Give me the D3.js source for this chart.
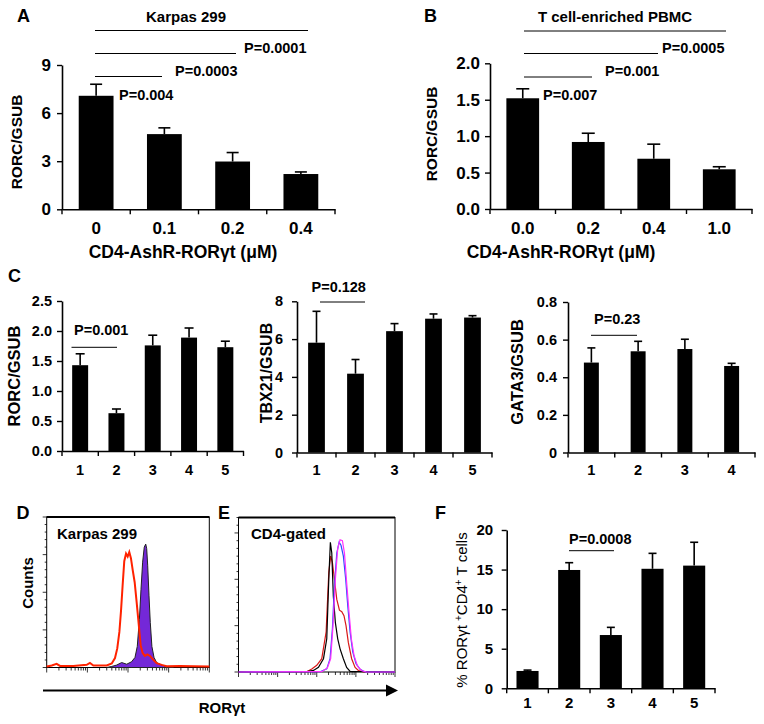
<!DOCTYPE html>
<html><head><meta charset="utf-8">
<script src="https://cdn.jsdelivr.net/npm/d3@7"></script>
<style>
body{margin:0;background:#fff;}
svg{display:block;font-family:"Liberation Sans",Arial,Helvetica,sans-serif;}
text{font-weight:bold;fill:#000;}
</style></head><body>
<svg id="chart" width="764" height="724"></svg>
<script>
// ---------------- DATA ----------------
// Panel A: Karpas 299
const aCategories = ["0", "0.1", "0.2", "0.4"];
const aValues = [7.08, 4.69, 2.98, 2.20];
const aErrors = [0.72, 0.39, 0.56, 0.13];
const aTicks = [0, 3, 6, 9];
const aTickLabels = ["0", "3", "6", "9"];
const aPvalues = ["P=0.004", "P=0.0003", "P=0.0001"];

// Panel B: T cell-enriched PBMC
const bCategories = ["0.0", "0.2", "0.4", "1.0"];
const bValues = [1.52, 0.92, 0.69, 0.545];
const bErrors = [0.13, 0.12, 0.20, 0.035];
const bTicks = [0, 0.5, 1.0, 1.5, 2.0];
const bTickLabels = ["0.0", "0.5", "1.0", "1.5", "2.0"];
const bPvalues = ["P=0.007", "P=0.001", "P=0.0005"];

// Panel C
const c1Categories = ["1", "2", "3", "4", "5"];
const c1Values = [1.43, 0.63, 1.76, 1.89, 1.73];
const c1Errors = [0.19, 0.07, 0.17, 0.16, 0.10];
const c1Ticks = [0, 0.5, 1.0, 1.5, 2.0, 2.5];
const c1TickLabels = ["0.0", "0.5", "1.0", "1.5", "2.0", "2.5"];

const c2Categories = ["1", "2", "3", "4", "5"];
const c2Values = [5.81, 4.17, 6.42, 7.08, 7.14];
const c2Errors = [1.66, 0.75, 0.40, 0.25, 0.10];
const c2Ticks = [0, 2, 4, 6, 8];
const c2TickLabels = ["0", "2", "4", "6", "8"];

const c3Categories = ["1", "2", "3", "4"];
const c3Values = [0.478, 0.538, 0.550, 0.460];
const c3Errors = [0.078, 0.053, 0.052, 0.014];
const c3Ticks = [0, 0.2, 0.4, 0.6, 0.8];
const c3TickLabels = ["0", "0.2", "0.4", "0.6", "0.8"];

// Panel F
const fCategories = ["1", "2", "3", "4", "5"];
const fValues = [2.19, 14.95, 6.73, 15.10, 15.50];
const fErrors = [0.11, 0.92, 0.97, 1.95, 2.95];
const fTicks = [0, 5, 10, 15, 20];
const fTickLabels = ["0", "5", "10", "15", "20"];

// Panel D histograms: [channel (0-1000), count (% of max scale)]
const dRedCurve = [[0,0],[31,0.7],[61,1.8],[82,0.4],[164,0.4],[246,1.1],[266,2.4],[287,0.7],[369,0.7],[400,2],[420,5.6],[434,12],[447,23],[457,37],[467,54],[477,70],[488,75],[498,73],[508,76],[518,72],[529,64],[541,56],[553,43],[566,28],[578,14],[590,9],[604,7],[619,8],[635,7],[656,4.4],[676,2.2],[707,1.1],[738,0.2],[820,0.4],[902,0.2],[1000,0]];
const dPurpleCurve = [[369,0],[400,0.7],[430,1.6],[461,3.3],[492,2.2],[522,3.8],[543,6.7],[557,14],[570,32],[580,52],[590,70],[600,80],[609,82],[615,79],[621,68],[629,48],[637,30],[647,14],[660,6.7],[676,3.3],[707,1.6],[738,0.7],[779,0]];

// Panel E histograms
const eBlackCurve = [[0,0],[436,0.2],[479,1],[511,3],[543,8.6],[564,21.5],[577,60],[587,84],[596,77],[606,49],[619,32],[634,21.5],[649,15],[670,8.6],[691,3],[713,0.4],[1000,0]];
const eRedCurve = [[0,0],[436,0.2],[468,2],[500,4.3],[532,8.6],[560,26],[577,64.5],[589,75],[600,71],[613,60],[628,47],[645,40],[660,39],[674,36.5],[687,30],[702,19],[723,8.6],[745,3],[766,1],[798,0],[1000,0]];
const eBlueCurve = [[0,0],[521,0.2],[564,2],[585,8.6],[600,28],[613,56],[628,77],[643,84],[655,82],[670,75],[685,60],[698,43],[713,26],[730,13],[751,5.4],[777,1.7],[809,0],[1000,0]];
const eMagentaCurve = [[0,0],[532,0.2],[568,2.6],[589,8.6],[604,30],[619,60],[634,80],[649,85.6],[664,85],[677,77],[691,58],[706,39],[721,21.5],[738,10.8],[760,3.9],[787,0.9],[819,0],[1000,0]];

// ---------------- DRAWING ----------------
const svg = d3.select("#chart");
const FONT = '"Liberation Sans",Arial,Helvetica,sans-serif';

function txt(x, y, s, size, opts = {}) {
  const t = svg.append("text").attr("x", x).attr("y", y).text(s)
    .attr("font-size", size).attr("text-anchor", opts.anchor || "start");
  if (opts.weight) t.style("font-weight", opts.weight);
  return t;
}
function rtxt(cx, cy, s, size) {
  return svg.append("text").attr("transform", `translate(${cx},${cy}) rotate(-90)`)
    .attr("text-anchor", "middle").attr("dy", "0.36em").attr("font-size", size).text(s);
}
function hline(x1, x2, y, w = 1) {
  svg.append("line").attr("x1", x1).attr("x2", x2).attr("y1", y).attr("y2", y)
    .attr("stroke", "#000").attr("stroke-width", w);
}

function barPanel(cfg) {
  const g = svg.append("g");
  const x = d3.scaleBand().domain(cfg.categories).range([cfg.x0, cfg.x1])
    .paddingInner(cfg.pad).paddingOuter(cfg.pad / 2);
  const y = d3.scaleLinear().domain(cfg.domain).range([cfg.y0, cfg.y1]);

  g.selectAll("rect").data(cfg.values).join("rect")
    .attr("x", (d, i) => x(cfg.categories[i])).attr("width", x.bandwidth())
    .attr("y", d => y(d)).attr("height", d => y(0) - y(d)).attr("fill", "#000");

  cfg.values.forEach((v, i) => {
    const cx = x(cfg.categories[i]) + x.bandwidth() / 2;
    const top = y(v + cfg.errors[i]);
    g.append("line").attr("x1", cx).attr("x2", cx).attr("y1", y(v)).attr("y2", top)
      .attr("stroke", "#000").attr("stroke-width", 1.6);
    g.append("line").attr("x1", cx - cfg.cap / 2).attr("x2", cx + cfg.cap / 2).attr("y1", top).attr("y2", top)
      .attr("stroke", "#000").attr("stroke-width", 1.6);
  });

  // y axis
  const ya = g.append("g").attr("transform", `translate(${cfg.x0},0)`)
    .call(d3.axisLeft(y).tickValues(cfg.ticks).tickFormat((d, i) => cfg.tickLabels[i])
      .tickSize(5).tickSizeOuter(0).tickPadding(cfg.yPad));
  ya.select(".domain").attr("stroke-width", 1.6);
  ya.selectAll(".tick line").attr("stroke-width", 1.4);
  ya.selectAll("text").attr("font-size", cfg.fs).attr("font-family", FONT).style("font-weight", "bold");

  // x axis
  const xa = g.append("g").attr("transform", `translate(0,${cfg.y0})`)
    .call(d3.axisBottom(x).tickSize(0).tickSizeOuter(0).tickPadding(cfg.xPad));
  xa.select(".domain").attr("stroke-width", 1.6);
  xa.selectAll("text").attr("font-size", cfg.fs).attr("font-family", FONT).style("font-weight", "bold");
  const step = x.step();
  d3.range(cfg.categories.length + 1).forEach(k => {
    const bx = cfg.x0 + k * step;
    g.append("line").attr("x1", bx).attr("x2", bx).attr("y1", cfg.y0).attr("y2", cfg.y0 + 5)
      .attr("stroke", "#000").attr("stroke-width", 1.4);
  });
  return { x, y };
}

// Panel A
barPanel({categories: aCategories, values: aValues, errors: aErrors, ticks: aTicks, tickLabels: aTickLabels,
  domain: [0, 9], x0: 62, x1: 335, y0: 209.3, y1: 65, pad: 0.49, cap: 12, yPad: 6, xPad: 12.5, fs: 17});
txt(17, 22, "A", 18);
txt(186, 21.5, "Karpas 299", 15, {anchor: "middle"});
hline(95, 308, 30.5); hline(95, 236, 53.5); hline(95, 162, 76.5);
txt(244, 53, aPvalues[2], 14.5);
txt(175, 76, aPvalues[1], 14.5);
txt(119, 100, aPvalues[0], 14.5);
rtxt(16.5, 142, "RORC/GSUB", 15.5);
txt(183, 257.5, "CD4-AshR-RORγt (μM)", 17.5, {anchor: "middle"});

// Panel B
barPanel({categories: bCategories, values: bValues, errors: bErrors, ticks: bTicks, tickLabels: bTickLabels,
  domain: [0, 2], x0: 490, x1: 752, y0: 209, y1: 63.3, pad: 0.5, cap: 13, yPad: 5, xPad: 12.5, fs: 17});
txt(424, 22, "B", 18);
txt(615, 21.5, "T cell-enriched PBMC", 15, {anchor: "middle"});
hline(524, 726, 31); hline(524, 658, 53.5); hline(524, 592, 77);
txt(662, 53, bPvalues[2], 14.5);
txt(605, 75.5, bPvalues[1], 14.5);
txt(543, 100, bPvalues[0], 14.5);
rtxt(431, 134, "RORC/GSUB", 15.5);
txt(561, 257.5, "CD4-AshR-RORγt (μM)", 17.5, {anchor: "middle"});

// Panel C
barPanel({categories: c1Categories, values: c1Values, errors: c1Errors, ticks: c1Ticks, tickLabels: c1TickLabels,
  domain: [0, 2.5], x0: 62, x1: 243.5, y0: 451, y1: 301, pad: 0.56, cap: 9, yPad: 5, xPad: 14, fs: 14.5});
txt(8, 282, "C", 18);
hline(71.5, 117, 347.3);
txt(74, 335, "P=0.001", 14.5);
rtxt(14, 376, "RORC/GSUB", 16.5);

barPanel({categories: c2Categories, values: c2Values, errors: c2Errors, ticks: c2Ticks, tickLabels: c2TickLabels,
  domain: [0, 8], x0: 297, x1: 492, y0: 452.5, y1: 301.3, pad: 0.57, cap: 8, yPad: 9, xPad: 12.5, fs: 14.5});
hline(320, 365, 302);
txt(311.5, 291.5, "P=0.128", 14.5);
rtxt(266.5, 373, "TBX21/GSUB", 16);

barPanel({categories: c3Categories, values: c3Values, errors: c3Errors, ticks: c3Ticks, tickLabels: c3TickLabels,
  domain: [0, 0.8], x0: 568, x1: 755, y0: 452.5, y1: 302, pad: 0.68, cap: 8, yPad: 6, xPad: 12.5, fs: 14.5});
hline(591, 637, 335.3);
txt(594, 323.5, "P=0.23", 14.5);
rtxt(517.5, 372, "GATA3/GSUB", 16.5);

// Panel F
barPanel({categories: fCategories, values: fValues, errors: fErrors, ticks: fTicks, tickLabels: fTickLabels,
  domain: [0, 20], x0: 506.7, x1: 715, y0: 688.3, y1: 530, pad: 0.47, cap: 8, yPad: 8.5, xPad: 9.5, fs: 15});
txt(435, 519, "F", 18);
hline(569, 614, 550.7);
txt(569, 544, "P=0.0008", 14.5);
const fl = svg.append("text").attr("transform", "translate(462,610) rotate(-90)")
  .attr("text-anchor", "middle").attr("dy", "0.36em").attr("font-size", 15).style("font-weight", "normal");
fl.append("tspan").text("% RORγt ");
fl.append("tspan").text("+").attr("baseline-shift", "super").attr("font-size", 10);
fl.append("tspan").text("CD4");
fl.append("tspan").text("+").attr("baseline-shift", "super").attr("font-size", 10);
fl.append("tspan").text(" T cells");

// Histogram panels
function histFrame(L, R, T, B) {
  const x = d3.scaleLinear().domain([0, 1000]).range([L, R]);
  const y = d3.scaleLinear().domain([0, 100]).range([B, T]);
  return { x, y };
}
function frameDecor(L, R, T, B, majorEvery) {
  svg.append("rect").attr("x", L).attr("y", T).attr("width", R - L).attr("height", B - T)
    .attr("fill", "none").attr("stroke", "#000").attr("stroke-width", 1);
  hline(L, R, T, 1.8);
  const y = d3.scaleLinear().domain([0, 100]).range([B, T]);
  d3.range(0, 101, 5).forEach(v => {
    const major = v % majorEvery === 0;
    svg.append("line").attr("x1", L - (major ? 4 : 2)).attr("x2", L).attr("y1", y(v)).attr("y2", y(v))
      .attr("stroke", "#000").attr("stroke-width", 0.8);
  });
  const x = d3.scaleLinear().domain([0, 1000]).range([L, R]);
  [0, 250, 500, 750].forEach(d0 => {
    d3.range(1, 10).forEach(m => {
      const c = d0 + Math.log10(m) * 250;
      svg.append("line").attr("x1", x(c)).attr("x2", x(c)).attr("y1", B).attr("y2", B + (m === 1 ? 5 : 3))
        .attr("stroke", "#000").attr("stroke-width", 0.8);
    });
  });
  svg.append("line").attr("x1", x(1000)).attr("x2", x(1000)).attr("y1", B).attr("y2", B + 5)
    .attr("stroke", "#000").attr("stroke-width", 0.8);
}

// Panel D
const dF = histFrame(46.7, 209.3, 517, 667.5);
frameDecor(46.7, 209.3, 517, 667.5, 25);
svg.append("path").datum(dPurpleCurve)
  .attr("d", d3.area().x(d => dF.x(d[0])).y0(dF.y(0)).y1(d => dF.y(d[1])))
  .attr("fill", "#7428d8").attr("stroke", "#222").attr("stroke-width", 1);
svg.append("path").datum(dRedCurve)
  .attr("d", d3.line().x(d => dF.x(d[0])).y(d => dF.y(d[1]) - 1))
  .attr("fill", "none").attr("stroke", "#ff2200").attr("stroke-width", 2);
txt(16.5, 519, "D", 18);
txt(57, 539, "Karpas 299", 15);
rtxt(28, 583, "Counts", 15);

// Panel E
const eF = histFrame(238.5, 395, 517.5, 672);
frameDecor(238.5, 395, 517.5, 672, 30);
const eLine = d3.line().x(d => eF.x(d[0])).y(d => eF.y(d[1]));
[[eRedCurve, "#d81818"], [eBlackCurve, "#000"], [eBlueCurve, "#2a4dff"], [eMagentaCurve, "#ff30ff"]].forEach(([c, col]) => {
  svg.append("path").datum(c).attr("d", eLine).attr("fill", "none").attr("stroke", col).attr("stroke-width", 1.2);
});
txt(218, 519, "E", 18);
txt(251, 539, "CD4-gated", 15);

// Arrow + RORγt label
svg.append("line").attr("x1", 43).attr("x2", 388).attr("y1", 690.5).attr("y2", 690.5)
  .attr("stroke", "#000").attr("stroke-width", 2);
svg.append("path").attr("d", "M386,684.5 L398,690.5 L386,696.5 Z").attr("fill", "#000");
txt(222, 713, "RORγt", 15, {anchor: "middle"});
</script>
</body></html>
